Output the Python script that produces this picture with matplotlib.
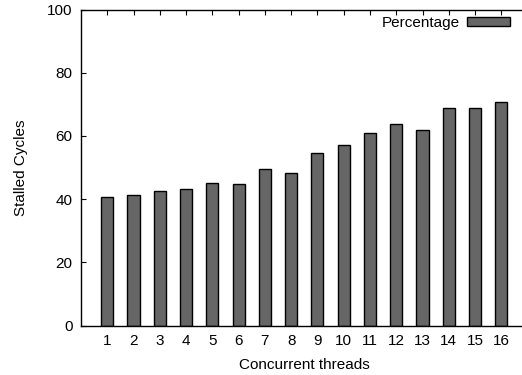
import matplotlib
matplotlib.use("Agg")
import matplotlib.pyplot as plt

threads = list(range(1, 17))
percentage = [40.8, 41.3, 42.5, 43.2, 45.1, 44.8, 49.6, 48.2,
              54.7, 57.0, 60.8, 63.9, 62.0, 68.7, 68.7, 70.6]
y_ticks = [0, 20, 40, 60, 80, 100]

plt.rcParams['font.family'] = ['Liberation Sans', 'DejaVu Sans']
plt.rcParams['font.size'] = 11

W, H = 522, 375
fig = plt.figure(figsize=(W / 100, H / 100), dpi=100)
left, right_x, top_y, bot_y = 81, 527.6, 9.5, 325.7
ax = fig.add_axes([left / W, (H - bot_y) / H, (right_x - left) / W, (bot_y - top_y) / H])

ax.bar(threads, percentage, width=0.46, color='#666666', edgecolor='black',
       linewidth=1.0, label='Percentage', zorder=2)
ax.set_xlim(0, 17)
ax.set_ylim(0, 100)
ax.set_xticks(threads)
ax.set_xticklabels([str(t) for t in threads])
ax.set_yticks(y_ticks)
ax.set_axisbelow(True)
ax.tick_params(direction='in', length=3.5, width=0.8, top=True, right=True,
               pad=6, colors='black')
for s in ax.spines.values():
    s.set_linewidth(1.0)
    s.set_zorder(3)

ax.set_xlabel('Concurrent threads', labelpad=7)
ax.set_ylabel('Stalled Cycles', labelpad=14)

leg = ax.legend(loc='upper right', bbox_to_anchor=(510 / W, 1 - 16 / H),
                bbox_transform=fig.transFigure, frameon=False, markerfirst=False,
                handlelength=2.8, handleheight=0.5, handletextpad=0.5,
                borderpad=0, borderaxespad=0)

fig.savefig('out.png', dpi=100)
